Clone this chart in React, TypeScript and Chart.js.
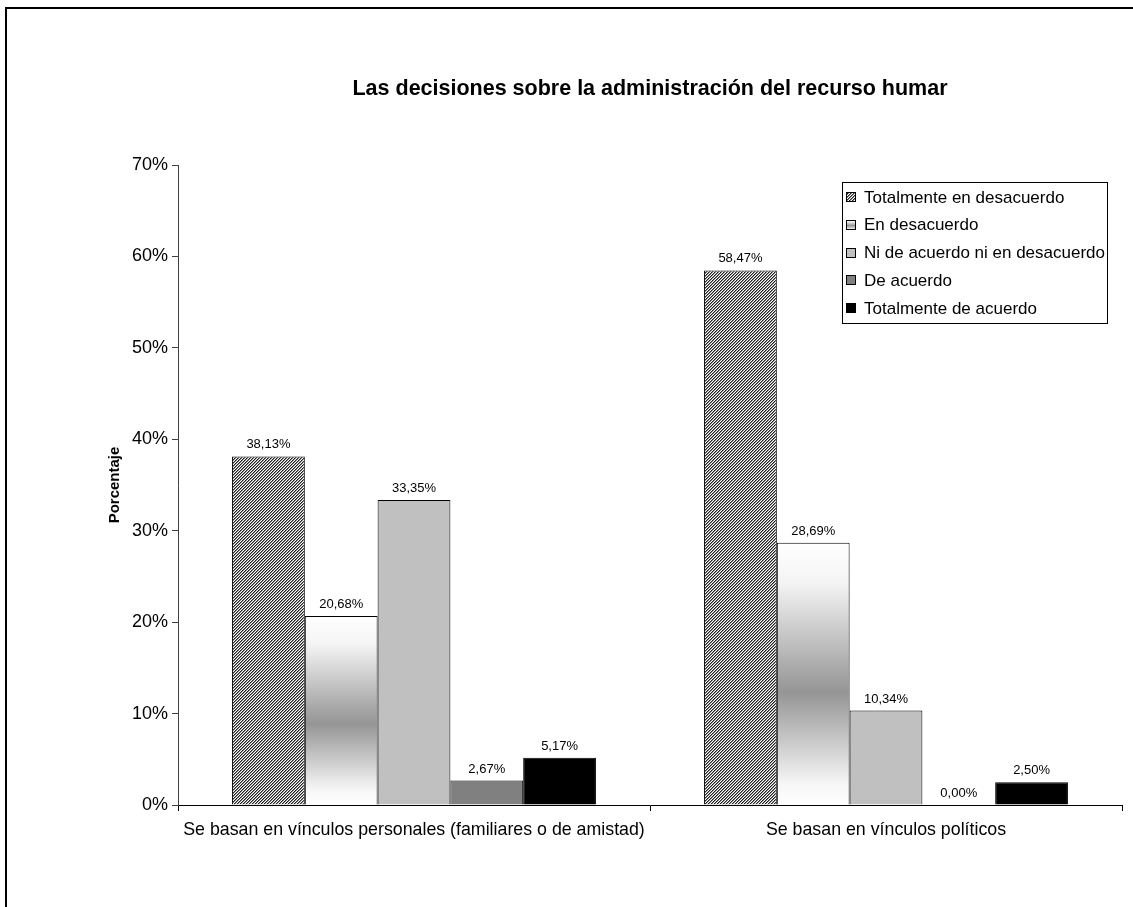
import React, { useEffect, useRef } from 'react';
import { Chart, registerables } from 'chart.js';

Chart.register(...registerables);

const categories = [
  'Se basan en vínculos personales (familiares o de amistad)',
  'Se basan en vínculos políticos',
];
const seriesNames = [
  'Totalmente en desacuerdo',
  'En desacuerdo',
  'Ni de acuerdo ni en desacuerdo',
  'De acuerdo',
  'Totalmente de acuerdo',
];
const totalDesacuerdo = [38.13, 58.47];
const enDesacuerdo = [20.68, 28.69];
const niNi = [33.35, 10.34];
const deAcuerdo = [2.67, 0.0];
const totalAcuerdo = [5.17, 2.5];
const yMin = 0;
const yMax = 70;
const yStep = 10;
const titleText = 'Las decisiones sobre la administración del recurso humar';
const yTitleText = 'Porcentaje';

const FONT = "'Liberation Sans', Arial, sans-serif";

function makeHatch(): CanvasPattern | string {
  const c = document.createElement('canvas');
  c.width = 3;
  c.height = 3;
  const g = c.getContext('2d');
  if (!g) return '#888';
  g.fillStyle = '#ffffff';
  g.fillRect(0, 0, 3, 3);
  for (let i = 0; i < 3; i++) {
    g.fillStyle = '#222222';
    g.fillRect(i, 2 - i, 1, 1);
    g.fillStyle = '#8a8a8a';
    g.fillRect(i, (3 - i) % 3, 1, 1);
  }
  const p = g.createPattern(c, 'repeat');
  return p || '#888';
}

function gradStops(grad: CanvasGradient) {
  grad.addColorStop(0, '#ffffff');
  grad.addColorStop(0.15, '#f4f4f4');
  grad.addColorStop(0.57, '#959595');
  grad.addColorStop(0.92, '#f6f6f6');
  grad.addColorStop(1, '#ffffff');
  return grad;
}

export default function App() {
  const ref = useRef<HTMLCanvasElement | null>(null);

  useEffect(() => {
    if (!ref.current) return;
    const hatch = makeHatch();

    const gradientFill = (ctx: any) => {
      const chart = ctx.chart;
      if (ctx.type !== 'data' || !chart.scales || !chart.scales.y) return '#bbbbbb';
      const y = chart.scales.y.getPixelForValue(ctx.raw);
      const base = chart.scales.y.getPixelForValue(0);
      if (!isFinite(y) || !isFinite(base) || base - y < 1) return '#ffffff';
      return gradStops(chart.ctx.createLinearGradient(0, y, 0, base));
    };

    const fills: any[] = [hatch, gradientFill, '#c0c0c0', '#808080', '#000000'];
    const series = [totalDesacuerdo, enDesacuerdo, niNi, deAcuerdo, totalAcuerdo];

    const dataLabels = {
      id: 'dataLabels',
      afterDatasetsDraw(chart: any) {
        const ctx = chart.ctx;
        ctx.save();
        ctx.font = `13px ${FONT}`;
        ctx.fillStyle = '#000';
        ctx.textAlign = 'center';
        ctx.textBaseline = 'bottom';
        chart.data.datasets.forEach((ds: any, di: number) => {
          const meta = chart.getDatasetMeta(di);
          meta.data.forEach((el: any, i: number) => {
            const v = ds.data[i] as number;
            const txt = v.toFixed(2).replace('.', ',') + '%';
            ctx.fillText(txt, el.x, el.y - 5);
          });
        });
        ctx.restore();
      },
    };

    const boxLegend = {
      id: 'boxLegend',
      afterDraw(chart: any) {
        const ctx = chart.ctx;
        const ca = chart.chartArea;
        const w = 265;
        const h = 141;
        const left = Math.round(ca.right - 15 - w);
        const top = Math.round(ca.top + 17);
        ctx.save();
        ctx.fillStyle = '#ffffff';
        ctx.fillRect(left, top, w, h);
        ctx.strokeStyle = '#000';
        ctx.lineWidth = 1;
        ctx.strokeRect(left + 0.5, top + 0.5, w, h);
        ctx.font = `17px ${FONT}`;
        ctx.textBaseline = 'middle';
        ctx.textAlign = 'left';
        chart.data.datasets.forEach((ds: any, i: number) => {
          const cy = top + 15 + i * 27.8;
          const sx = left + 4;
          const sy = Math.round(cy - 5);
          if (i === 1) {
            ctx.fillStyle = gradStops(ctx.createLinearGradient(0, sy, 0, sy + 10));
          } else {
            ctx.fillStyle = fills[i];
          }
          ctx.fillRect(sx, sy, 10, 10);
          ctx.strokeStyle = '#000';
          ctx.strokeRect(sx + 0.5, sy + 0.5, 9, 9);
          ctx.fillStyle = '#000';
          ctx.fillText(ds.label, left + 22, cy + 1);
        });
        ctx.restore();
      },
    };

    const chart = new Chart(ref.current, {
      type: 'bar',
      data: {
        labels: categories,
        datasets: seriesNames.map((name, i) => ({
          label: name,
          data: series[i],
          backgroundColor: fills[i],
          borderColor: '#000000',
          borderWidth: 1,
          categoryPercentage: 0.771,
          barPercentage: 1,
        })),
      },
      options: {
        responsive: false,
        animation: false,
        devicePixelRatio: 1,
        layout: { padding: { left: 0, right: 11, top: 0, bottom: 0 } },
        plugins: {
          legend: { display: false },
          tooltip: { enabled: false },
          title: {
            display: true,
            text: titleText,
            fullSize: false,
            color: '#000',
            font: { family: FONT, size: 21.5, weight: 'bold', lineHeight: 1.2 },
            padding: { top: 76, bottom: 63.2 },
          },
        },
        scales: {
          x: {
            afterFit: (scale: any) => {
              scale.height = 102;
            },
            grid: {
              display: true,
              drawOnChartArea: false,
              drawTicks: true,
              tickLength: 6,
              color: '#000',
              offset: true,
            },
            border: { display: true, color: '#000', width: 1 },
            ticks: {
              color: '#000',
              font: { family: FONT, size: 17.8 },
              padding: 8,
              maxRotation: 0,
              autoSkip: false,
            },
          },
          y: {
            min: yMin,
            max: yMax,
            afterFit: (scale: any) => {
              scale.width = 178;
            },
            grid: {
              display: true,
              drawOnChartArea: false,
              drawTicks: true,
              tickLength: 6,
              color: '#404040',
            },
            border: { display: true, color: '#404040', width: 1 },
            ticks: {
              stepSize: yStep,
              color: '#000',
              font: { family: FONT, size: 18 },
              padding: 4,
              callback: (v: any) => `${v}%`,
            },
            title: {
              display: true,
              text: yTitleText,
              color: '#000',
              font: { family: FONT, size: 15, weight: 'bold', lineHeight: 1.2 },
              padding: { top: 106, bottom: 0 },
            },
          },
        },
      },
      plugins: [dataLabels, boxLegend],
    } as any);

    return () => {
      chart.destroy();
    };
  }, []);

  return (
    <div
      style={{
        position: 'fixed',
        left: 0,
        top: 0,
        width: 1133,
        height: 907,
        background: '#ffffff',
        overflow: 'hidden',
      }}
    >
      <div
        style={{
          position: 'absolute',
          left: 5,
          top: 7,
          width: 1200,
          height: 1000,
          borderLeft: '2px solid #000',
          borderTop: '2px solid #000',
          boxSizing: 'border-box',
        }}
      />
      <canvas
        ref={ref}
        width={1133}
        height={907}
        style={{ position: 'absolute', left: 0, top: 0, width: 1133, height: 907 }}
      />
    </div>
  );
}
